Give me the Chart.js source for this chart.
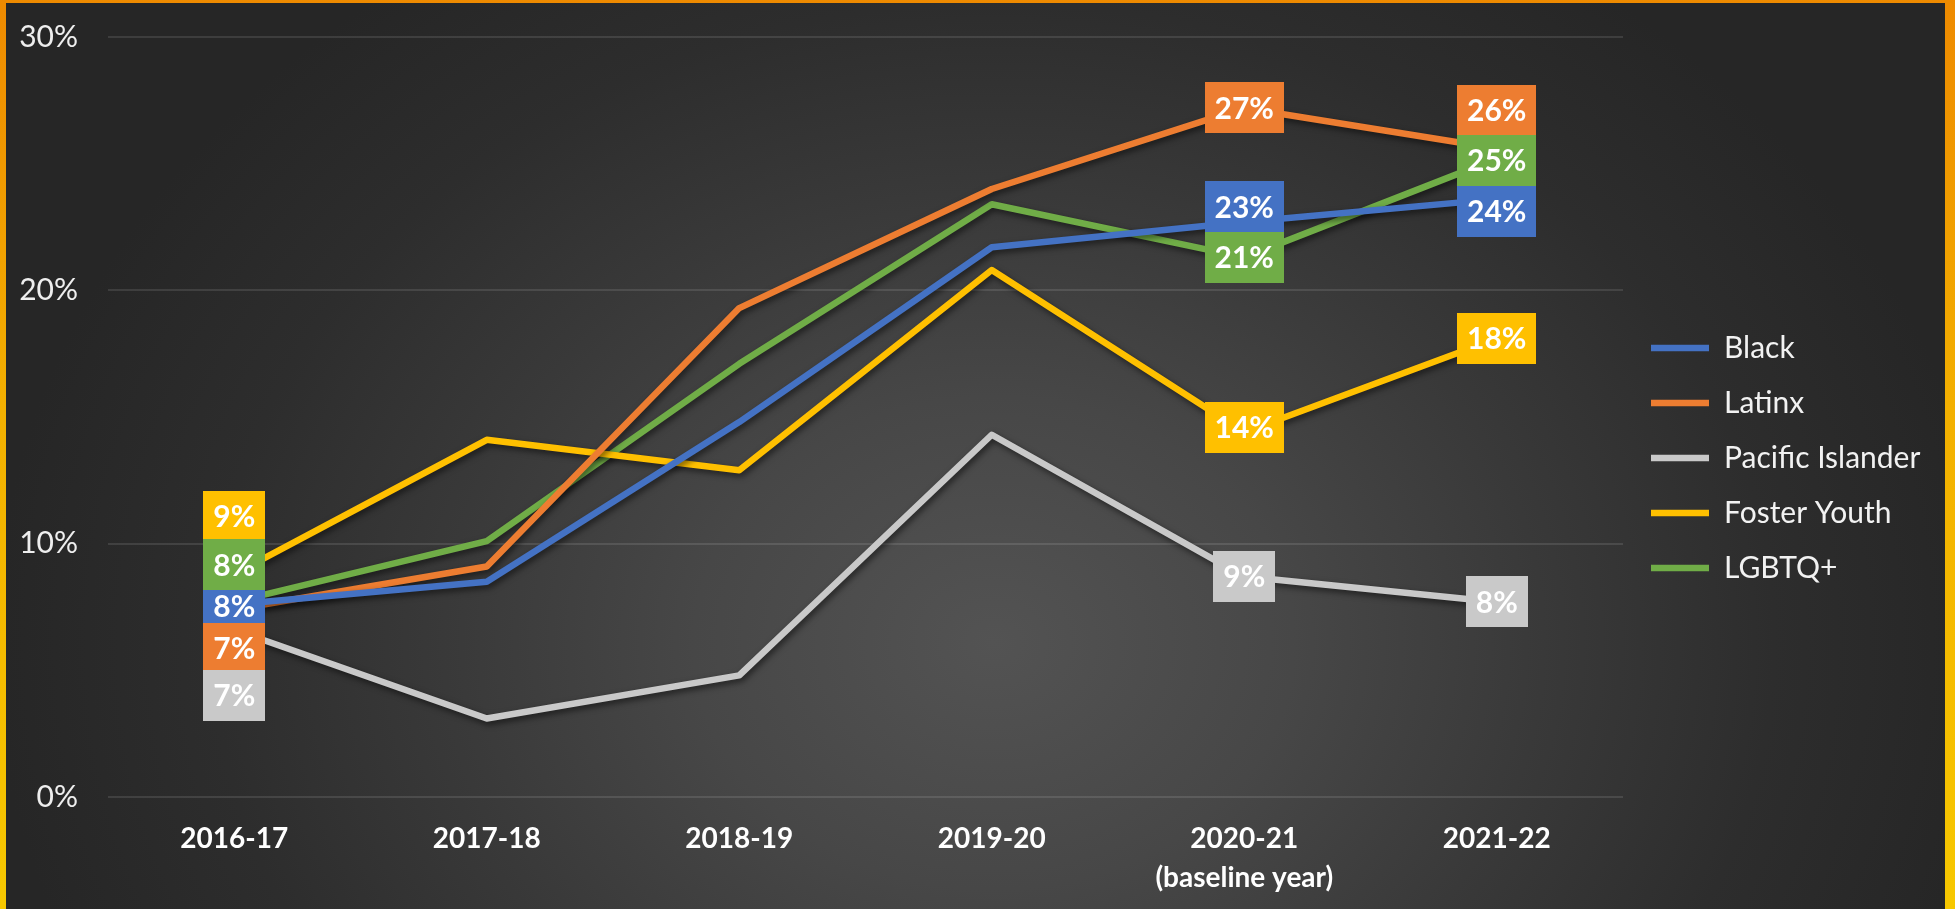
<!DOCTYPE html>
<html>
<head>
<meta charset="utf-8">
<script src="https://cdn.jsdelivr.net/npm/chart.js@4.4.0/dist/chart.umd.min.js"></script>
<style>
html,body{margin:0;padding:0;width:1955px;height:909px;overflow:hidden;}
body{position:relative;background:linear-gradient(180deg,#ee8a00 0%,#f3b000 45%,#f7c800 100%);}
#panel{position:absolute;left:6px;top:3px;width:1939px;height:930px;
  background:radial-gradient(ellipse 1000px 820px at 988px 640px,#535353 0%,#474747 30%,#393939 55%,#2d2d2d 78%,#262626 100%);}
#c{position:absolute;left:0;top:0;}
</style>
</head>
<body>
<div id="panel"></div>
<canvas id="c" width="1955" height="909"></canvas>
<script>
// ---- data ----
const categories = ["2016-17", "2017-18", "2018-19", "2019-20", ["2020-21", "(baseline year)"], "2021-22"];
const seriesNames = ["Black", "Latinx", "Pacific Islander", "Foster Youth", "LGBTQ+"];
const black           = [7.6, 8.5, 14.8, 21.7, 22.7, 23.6];
const latinx          = [7.4, 9.1, 19.3, 24.0, 27.2, 25.6];
const pacificIslander = [6.6, 3.1, 4.8, 14.3, 8.7, 7.7];
const fosterYouth     = [8.8, 14.1, 12.9, 20.8, 14.4, 18.1];
const lgbtq           = [7.7, 10.1, 17.1, 23.4, 21.3, 25.2];
const yTickValues     = [0, 10, 20, 30];
const labeledIndices  = [0, 4, 5];

// ---- styling (kept apart from data) ----
const colors = ["#4472C4", "#ED7D31", "#C9C9C9", "#FFC000", "#70AD47"];
// vertical nudges (px) of value labels at the labeled indices, per series
const labelNudge = [
  [2, -15, 12],
  [39, 0, -38],
  [66, 0, 0],
  [-58, -5, 0],
  [-37, 0, 2]
];
const FONT = "Lato, 'Open Sans', sans-serif";
const CHART_RIGHT = 1623;

const allSeries = [black, latinx, pacificIslander, fosterYouth, lgbtq];

const shadowPlugin = {
  id: 'lineShadow',
  beforeDatasetDraw(chart) {
    const ctx = chart.ctx;
    ctx.save();
    ctx.shadowColor = 'rgba(0,0,0,0.55)';
    ctx.shadowBlur = 6;
    ctx.shadowOffsetX = 2;
    ctx.shadowOffsetY = 3;
  },
  afterDatasetDraw(chart) { chart.ctx.restore(); }
};

const valueLabels = {
  id: 'valueLabels',
  afterDatasetsDraw(chart) {
    const ctx = chart.ctx;
    ctx.save();
    ctx.font = "bold 30px " + FONT;
    ctx.textAlign = 'center';
    ctx.textBaseline = 'middle';
    chart.data.datasets.forEach((ds, di) => {
      const meta = chart.getDatasetMeta(di);
      labeledIndices.forEach((idx, k) => {
        const pt = meta.data[idx];
        const text = Math.round(ds.data[idx]) + '%';
        const w = ctx.measureText(text).width + 20;
        const h = 51;
        const cx = pt.x;
        const cy = pt.y + labelNudge[di][k];
        ctx.fillStyle = colors[di];
        ctx.fillRect(Math.round(cx - w / 2), Math.round(cy - h / 2), Math.round(w), h);
        ctx.fillStyle = '#ffffff';
        ctx.fillText(text, cx, cy + 1);
      });
    });
    ctx.restore();
  }
};

const legendTweak = {
  id: 'legendTweak',
  beforeUpdate(chart) {
    const lg = chart.legend;
    if (lg && !lg.__wrapped) {
      const f = lg.fit;
      lg.fit = function () { f.call(this); this.width = 1955 - CHART_RIGHT; };
      lg.__wrapped = true;
    }
  },
  afterLayout(chart) {
    const lg = chart.legend;
    if (lg) { lg.left += 3; lg.right += 3; lg.top -= 15; lg.bottom -= 15; }
  }
};

new Chart(document.getElementById('c'), {
  type: 'line',
  data: {
    labels: categories,
    datasets: seriesNames.map((name, i) => ({
      label: name,
      data: allSeries[i],
      borderColor: colors[i],
      backgroundColor: colors[i],
      borderWidth: 6.5,
      borderCapStyle: 'round',
      borderJoinStyle: 'round',
      pointRadius: 0,
      pointHoverRadius: 0,
      tension: 0,
      fill: false
    }))
  },
  options: {
    responsive: false,
    animation: false,
    layout: { padding: { top: 37, left: 0, right: 0, bottom: 0 } },
    scales: {
      x: {
        offset: true,
        grid: { display: false, drawTicks: false },
        border: { display: false },
        ticks: {
          color: '#ffffff',
          font: { family: FONT, size: 28, weight: 'bold', lineHeight: 1.38 },
          padding: 23,
          maxRotation: 0,
          autoSkip: false
        },
        afterFit(s) { s.height = 112; }
      },
      y: {
        min: 0,
        max: 30,
        afterBuildTicks(s) { s.ticks = yTickValues.map(v => ({ value: v })); },
        grid: { color: 'rgba(255,255,255,0.11)', lineWidth: 2, drawTicks: false },
        border: { display: false },
        ticks: {
          color: '#eeeeee',
          font: { family: FONT, size: 30 },
          padding: 30,
          callback: v => v + '%'
        },
        afterFit(s) { s.width = 108; s.paddingTop = 0; s.paddingBottom = 0; }
      }
    },
    plugins: {
      legend: {
        position: 'right',
        align: 'center',
        labels: {
          color: '#f2f2f2',
          font: { family: FONT, size: 30 },
          usePointStyle: true,
          pointStyle: 'line',
          pointStyleWidth: 58,
          padding: 25
        }
      },
      tooltip: { enabled: false }
    }
  },
  plugins: [shadowPlugin, valueLabels, legendTweak]
});
</script>
</body>
</html>
